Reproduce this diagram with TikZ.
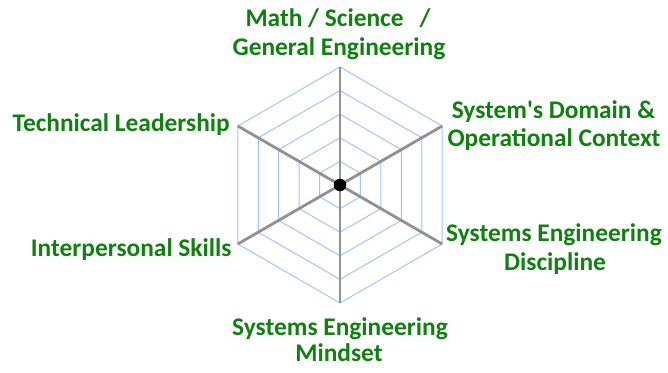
\documentclass[tikz,border=0pt]{standalone}
\usepackage{fontspec}
\setmainfont{Carlito}
\usetikzlibrary{calc}
\definecolor{lblgreen}{RGB}{16,128,16}
\definecolor{ringblue}{RGB}{165,195,250}
\definecolor{spokegray}{RGB}{145,145,145}
\begin{document}
\begin{tikzpicture}[x=1pt,y=-1pt,
  lbl/.style={font=\fontsize{25.4}{30}\selectfont\bfseries, text=lblgreen, inner sep=0pt, anchor=base},
  ring/.style={draw=ringblue, line width=1pt, line join=miter},
  spoke/.style={draw=spokegray, line width=2.8pt}]
\useasboundingbox (0,0) rectangle (668,372);
\coordinate (c) at (340,185);
\foreach \k in {1,...,5}{
  \pgfmathsetmacro{\rr}{23.6*\k}
  \draw[ring, shift={(340,185)}] (90:\rr) -- (30:\rr) -- (-30:\rr) -- (-90:\rr) -- (-150:\rr) -- (150:\rr) -- cycle;
}
\coordinate (v1) at ($(c)+(0,-118)$);
\coordinate (v2) at ($(c)+(102.2,-59)$);
\coordinate (v3) at ($(c)+(102.2,59)$);
\coordinate (v4) at ($(c)+(0,118)$);
\coordinate (v5) at ($(c)+(-102.2,59)$);
\coordinate (v6) at ($(c)+(-102.2,-59)$);
\draw[spoke] (v1) -- (v4);
\draw[spoke] (v2) -- (v5);
\draw[spoke] (v3) -- (v6);
\node (dot) [circle, fill=black, minimum size=12.5pt, inner sep=0pt] at (c) {};
\node[lbl] (math1) at (338,26.7) {Math / Science\hspace{16pt}/};
\node[lbl] (math2) at (339,55) {General Engineering};
\node[lbl] (sys1) at (553.5,118.3) {System\textquotesingle s Domain \&};
\node[lbl] (sys2) at (554,146.7) {Operational Context};
\node[lbl] (sed1) at (554,241.7) {Systems Engineering};
\node[lbl] (sed2) at (555,270) {Discipline};
\node[lbl, anchor=base east] (tl) at (230,131.7) {Technical Leadership};
\node[lbl, anchor=base east] (ip) at (231.7,256.3) {Interpersonal Skills};
\node[lbl] (sem1) at (340,335) {Systems Engineering};
\node[lbl] (sem2) at (339,361.7) {Mindset};
\end{tikzpicture}
\end{document}
